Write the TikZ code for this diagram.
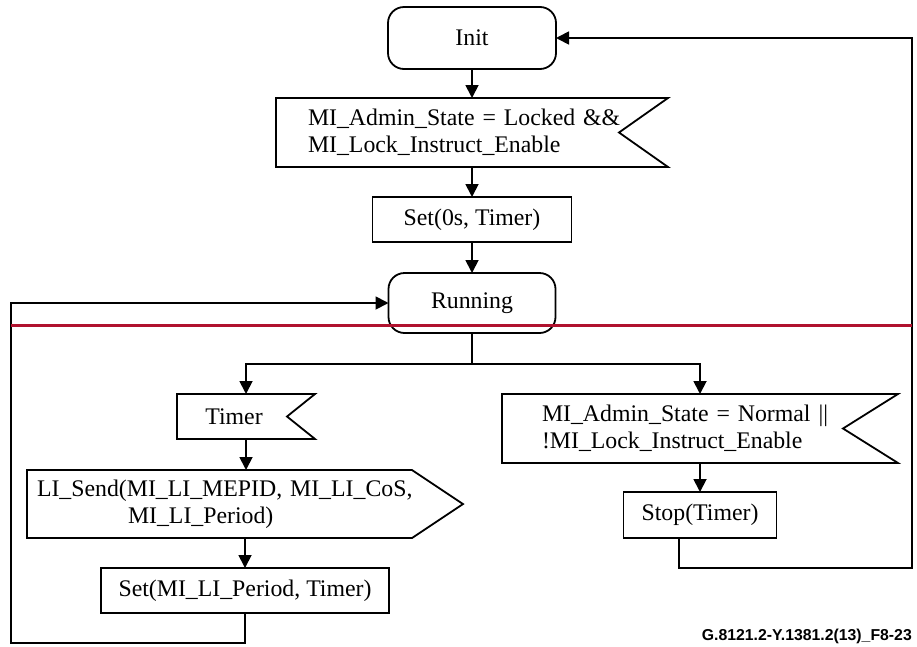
\documentclass[tikz,border=0pt]{standalone}
\usepackage{fontspec}
\setmainfont{Liberation Serif}
\newfontfamily\capfont{Liberation Sans}
\usetikzlibrary{arrows.meta,calc}
\definecolor{divred}{RGB}{176,18,46}
\begin{document}
\begin{tikzpicture}[x=1pt,y=-1pt,
  every node/.style={font=\fontsize{23.8}{26.7}\selectfont},
  body/.style={inner sep=0pt,outer sep=0pt},
  boxa/.style={body,draw,line width=1.8pt},
  statebox/.style={boxa,rounded corners=16pt},
  shapeline/.style={line width=1.8pt,line join=miter},
  conn/.style={line width=1.8pt},
  arr/.style={conn,-{Triangle[length=13pt,width=13pt]}},
]
\useasboundingbox (0,0) rectangle (917,646);

% top column
\node[statebox,minimum width=168pt,minimum height=62pt] (init) at (472,38) {Init};
\node[body,minimum width=392pt,minimum height=69pt,text width=328pt,align=left,inner xsep=32pt] (c1) at (472,132.5)
  {MI\_Admin\_State = Locked \&\&\\MI\_Lock\_Instruct\_Enable};
\draw[shapeline] (c1.north west) -- (c1.north east) -- ([xshift=-49pt]c1.east) -- (c1.south east) -- (c1.south west) -- cycle;
\node[boxa,minimum width=199pt,minimum height=45pt] (set0) at (472,219.5) {Set(0s, Timer)};
\node[statebox,minimum width=167pt,minimum height=60pt] (run) at (472,303) {Running};

% left branch
\node[body,minimum width=138pt,minimum height=45pt] (timer) at (246,416.5) {Timer\kern24pt\null};
\draw[shapeline] (timer.north west) -- (timer.north east) -- ([xshift=-28pt]timer.east) -- (timer.south east) -- (timer.south west) -- cycle;
\node[body,minimum width=426pt,minimum height=68pt,text width=416pt,align=left,inner xsep=10pt] (send) at (245,504)
  {LI\_Send(MI\_LI\_MEPID, MI\_LI\_CoS,\\\hspace*{91pt}MI\_LI\_Period)};
\draw[shapeline] (send.north west) -- ([xshift=-51pt]send.north east) -- (send.east) -- ([xshift=-51pt]send.south east) -- (send.south west) -- cycle;
\node[boxa,minimum width=288pt,minimum height=45pt] (set2) at (245,590.5) {Set(MI\_LI\_Period, Timer)};

% right branch
\node[body,minimum width=396pt,minimum height=69pt,text width=316pt,align=left,inner xsep=40pt] (c2) at (700,428.5)
  {MI\_Admin\_State = Normal ||\\!MI\_Lock\_Instruct\_Enable};
\draw[shapeline] (c2.north west) -- (c2.north east) -- ([xshift=-55pt]c2.east) -- (c2.south east) -- (c2.south west) -- cycle;
\node[boxa,minimum width=153pt,minimum height=46pt] (stop) at (700,515) {Stop(Timer)};

% loop coordinates
\coordinate (fork) at ($(run.south)+(0,31)$);
\coordinate (lb) at (11,643);
\coordinate (rb) at (912,568);

% connectors
\draw[arr] (init.south) -- (init.south |- c1.north);
\draw[arr] (c1.south) -- (c1.south |- set0.north);
\draw[arr] (set0.south) -- (set0.south |- run.north);
\draw[conn] (run.south) -- (fork);
\draw[arr] (fork) -| (timer.north);
\draw[arr] (fork) -| (c2.north);
\draw[arr] (timer.south) -- (timer.south |- send.north);
\draw[arr] (send.south) -- (send.south |- set2.north);
\draw[arr] (set2.south) |- (lb) |- (run.west);
\draw[arr] (c2.south) -- (c2.south |- stop.north);
\draw[arr] ([xshift=-21pt]stop.south) |- (rb) |- (init.east);

% divider
\draw[divred,line width=3pt] (11,325) -- (912,325);

% figure id
\node[anchor=south east,inner sep=0pt,font=\capfont\bfseries\fontsize{15.8}{18}\selectfont] (fid) at (912,644) {G.8121.2-Y.1381.2(13)\_F8-23};
\end{tikzpicture}
\end{document}
